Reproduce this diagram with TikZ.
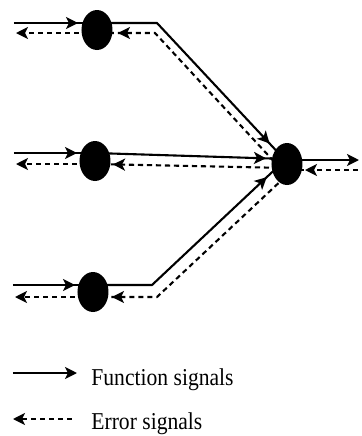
\documentclass[tikz,border=0pt]{standalone}
\usepackage{fontspec}
\usepackage{graphicx}
\setmainfont{Liberation Serif}
\usetikzlibrary{arrows.meta,shapes.geometric,decorations.markings}

\tikzset{
  neuron/.style={ellipse,fill=black,draw=none,inner sep=0pt,
                 minimum width=15.5pt,minimum height=20pt},
  sig/.style={line width=1.05pt},
  fsig/.style={sig},
  esig/.style={sig,dash pattern=on 2.6pt off 1.9pt},
  endtip/.style={-{Stealth[length=6pt,width=6pt,inset=1.5pt]}},
  tipat/.style={postaction={decorate},
    decoration={markings,
      mark=at position #1 with {\arrow{Stealth[length=6pt,width=6pt,inset=1.5pt]}}}},
  legendtext/.style={inner sep=0pt,anchor=base west,
    font=\fontsize{10.8}{12}\selectfont}
}

\begin{document}
\begin{tikzpicture}[x=0.5pt,y=-0.5pt]
\useasboundingbox (0,0) rectangle (361,436);

% hidden neurons and the output neuron
\node[neuron] (h1) at (97,30) {};
\node[neuron] (h2) at (95,161) {};
\node[neuron] (h3) at (93,292) {};
\node[neuron,minimum height=21pt] (out) at (287,164) {};

% line ends and bends
\coordinate (f1in) at (14,23);
\coordinate (e1in) at (16,33);
\coordinate (f1k)  at (157,23);
\coordinate (e1k)  at (155,33);
\coordinate (f1o)  at (285,160);
\coordinate (e1o)  at (280,168);

\coordinate (f2in) at (14,153);
\coordinate (e2in) at (16,164);
\coordinate (f2o)  at (287,159);
\coordinate (e2o)  at (287,168);

\coordinate (f3in) at (13,285);
\coordinate (e3in) at (15,297);
\coordinate (f3k)  at (152,285);
\coordinate (e3k)  at (157,297);
\coordinate (f3o)  at (285,160);
\coordinate (e3o)  at (285,177);

\coordinate (fout) at (359,160);
\coordinate (eout) at (358,170);

% upper neuron
\draw[fsig,tipat=-9.5pt] (f1in) -- (f1in -| h1);
\draw[esig,endtip] (e1in -| h1) -- (e1in);
\draw[fsig,tipat=-11pt] (f1in -| h1) -- (f1k) -- (f1o);
\draw[esig,tipat=-10.5pt] (e1o) -- (e1k) -- (e1in -| h1);

% middle neuron
\draw[fsig,tipat=-9pt] (f2in) -- (f2in -| h2);
\draw[esig,endtip] (e2in -| h2) -- (e2in);
\draw[fsig,tipat=-10.5pt] (f2in -| h2) -- (f2o);
\draw[esig,tipat=-9pt] (e2o) -- (e2in -| h2);

% lower neuron
\draw[fsig,tipat=-9pt] (f3in) -- (f3in -| h3);
\draw[esig,endtip] (e3in -| h3) -- (e3in);
\draw[fsig,tipat=-12.4pt] (f3in -| h3) -- (f3k) -- (f3o);
\draw[esig,tipat=-9.5pt] (e3o) -- (e3k) -- (e3in -| h3);

% output neuron
\draw[fsig,endtip] (fout -| out) -- (fout);
\draw[esig,tipat=-9pt] (eout) -- (eout -| out);

% legend
\node[legendtext] (lft) at (91,385) {\scalebox{1}[1.12]{Function signals}};
\node[legendtext] (let) at (91,429) {\scalebox{1}[1.12]{Error signals}};
\coordinate (lf1) at (13,373);
\coordinate (lf2) at (77,373);
\coordinate (le1) at (13,419);
\coordinate (le2) at (72,419);
\draw[fsig,endtip] (lf1) -- (lf2);
\draw[esig,endtip] (le2) -- (le1);
\end{tikzpicture}
\end{document}
